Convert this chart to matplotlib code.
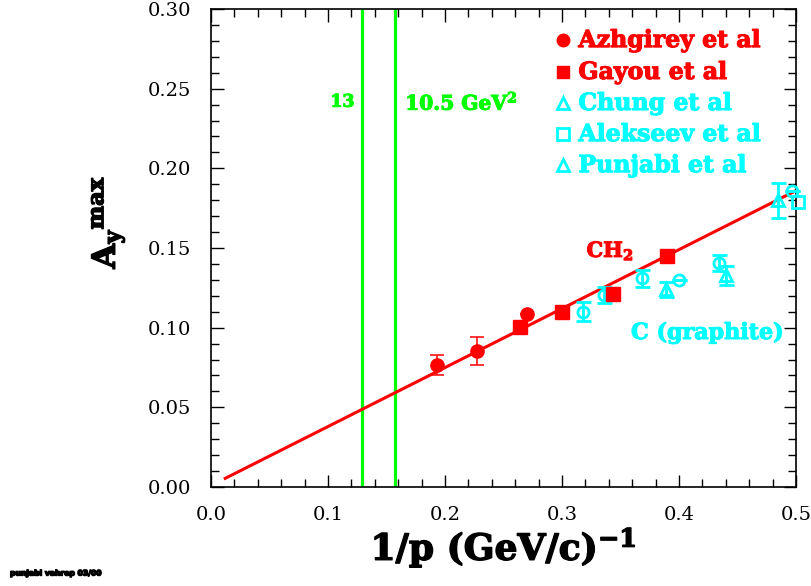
import matplotlib
matplotlib.use("Agg")
import matplotlib.pyplot as plt
import matplotlib.patheffects as pe
from matplotlib.ticker import MultipleLocator, FormatStrFormatter

BOLDFONT = 'DejaVu Serif'
plt.rcParams['mathtext.fontset'] = 'custom'
plt.rcParams['mathtext.rm'] = 'DejaVu Serif:bold'
plt.rcParams['mathtext.bf'] = 'DejaVu Serif:bold'
plt.rcParams['mathtext.it'] = 'DejaVu Serif:bold'

# ---------------- data ----------------
azh_x = [0.193, 0.227, 0.270]
azh_y = [0.0766, 0.0854, 0.1085]
azh_err = [0.006, 0.0088, 0.0]

gay_x = [0.264, 0.300, 0.344, 0.390]
gay_y = [0.1003, 0.110, 0.121, 0.145]

cyc_x = [0.318, 0.336, 0.368, 0.400, 0.434, 0.497]
cyc_y = [0.110, 0.1205, 0.131, 0.130, 0.1405, 0.186]
cyc_err = [0.006, 0.005, 0.0053, 0.0, 0.005, 0.0]

cyt_x = [0.389, 0.440, 0.485]
cyt_y = [0.124, 0.133, 0.180]
cyt_err = [0.0045, 0.006, 0.011]

cys_x = [0.502]
cys_y = [0.179]

fit_x = [0.011, 0.500]
fit_y = [0.005, 0.186]

s_lines_x = [0.129, 0.157]
s_labels = ["13", "10.5 GeV$^{2}$"]

legend_labels = ["Azhgirey et al", "Gayou et al", "Chung et al",
                 "Alekseev et al", "Punjabi et al"]

RED = "#ff0000"
CYAN = "#00ffff"
GREEN = "#00ff00"

fig = plt.figure(figsize=(8.12, 5.86), dpi=100)
ax = fig.add_axes([211/812, 99/586, 585/812, 478/586])


def heavy(c, w=0.8):
    return [pe.withStroke(linewidth=w, foreground=c)]


# green lines
for xv in s_lines_x:
    ax.axvline(xv, color=GREEN, lw=2.3, zorder=1)

# fit line
ax.plot(fit_x, fit_y, color=RED, lw=2.2, zorder=2, solid_capstyle='butt')

# red circles
ax.errorbar(azh_x, azh_y, yerr=azh_err, fmt='o', color=RED, ms=9.5,
            ecolor=RED, elinewidth=1.1, capsize=4.7, capthick=1.1, zorder=4)
# red squares
ax.plot(gay_x, gay_y, 's', color=RED, ms=9.5, zorder=4)

# cyan circles
ax.errorbar(cyc_x, cyc_y, yerr=cyc_err, fmt='o', mfc='none', mec=CYAN, mew=2.0,
            ms=8, ecolor=CYAN, elinewidth=2.0, capsize=5.4, capthick=2.0, zorder=3,
            clip_on=False)
# cyan triangles
ax.errorbar(cyt_x, cyt_y, yerr=cyt_err, fmt='^', mfc='none', mec=CYAN, mew=2.0,
            ms=8.5, ecolor=CYAN, elinewidth=2.0, capsize=5.4, capthick=2.0, zorder=3,
            clip_on=False)
# cyan square
ax.plot(cys_x, cys_y, 's', mfc='none', mec=CYAN, mew=2.0, ms=8, zorder=3, clip_on=False)

# annotations
ax.text(0.102, 0.2415, s_labels[0], color=GREEN, fontsize=12.5, family=BOLDFONT,
        weight='bold', va='center', ha='left', path_effects=heavy(GREEN))
ax.text(0.166, 0.2415, s_labels[1], color=GREEN, fontsize=14.5, family=BOLDFONT,
        weight='bold', va='center', ha='left', path_effects=heavy(GREEN))
ax.text(0.321, 0.148, "CH$_{2}$", color=RED, fontsize=15, family=BOLDFONT,
        weight='bold', va='center', ha='left', path_effects=heavy(RED))
ax.text(0.359, 0.0967, "C (graphite)", color=CYAN, fontsize=16, family=BOLDFONT,
        weight='bold', va='center', ha='left', path_effects=heavy(CYAN))

# legend (manual)
leg_y = [0.2805, 0.2605, 0.241, 0.2215, 0.202]
leg_markers = [dict(marker='o', mfc=RED, mec=RED, mew=1.0, ms=9),
               dict(marker='s', mfc=RED, mec=RED, mew=1.0, ms=9),
               dict(marker='^', mfc='none', mec=CYAN, mew=2.0, ms=9),
               dict(marker='s', mfc='none', mec=CYAN, mew=2.0, ms=8),
               dict(marker='^', mfc='none', mec=CYAN, mew=2.0, ms=9)]
leg_colors = [RED, RED, CYAN, CYAN, CYAN]
for lab, yv, mk, c in zip(legend_labels, leg_y, leg_markers, leg_colors):
    ax.plot([0.301], [yv], linestyle='none', zorder=5, **mk)
    ax.text(0.314, yv, lab, color=c, fontsize=17, family=BOLDFONT,
            weight='bold', va='center', ha='left', path_effects=heavy(c))

# axes
ax.set_xlim(0.0, 0.5)
ax.set_ylim(0.0, 0.30)
ax.xaxis.set_major_locator(MultipleLocator(0.1))
ax.xaxis.set_minor_locator(MultipleLocator(0.02))
ax.yaxis.set_major_locator(MultipleLocator(0.05))
ax.yaxis.set_minor_locator(MultipleLocator(0.01))
ax.xaxis.set_major_formatter(FormatStrFormatter('%.1f'))
ax.yaxis.set_major_formatter(FormatStrFormatter('%.2f'))
ax.tick_params(which='both', direction='in', top=True, right=True, width=1.0)
ax.tick_params(which='major', length=9, pad=14)
ax.tick_params(which='minor', length=5.5)
for lab in ax.get_xticklabels() + ax.get_yticklabels():
    lab.set_family('DejaVu Serif')
    lab.set_fontsize(14)
for sp in ax.spines.values():
    sp.set_linewidth(1.2)

ax.set_xlabel("1/p (GeV/c)$^{-1}$", fontsize=26, family=BOLDFONT, weight='bold',
              labelpad=2, path_effects=heavy('black', 1.0))

fig.text(108/812, 1 - 222/586, "A$_{y}{}^{max}$", rotation=90, fontsize=23,
         family=BOLDFONT, weight='bold', ha='center', va='center',
         path_effects=heavy('black', 1.0))

fig.text(10/812, 1 - 573/586, "punjabi vahrep 03/00", fontsize=5.5, family='DejaVu Sans',
         weight='bold', ha='left', va='center', path_effects=heavy('black', 1.0))

fig.savefig("out.png", dpi=100)
